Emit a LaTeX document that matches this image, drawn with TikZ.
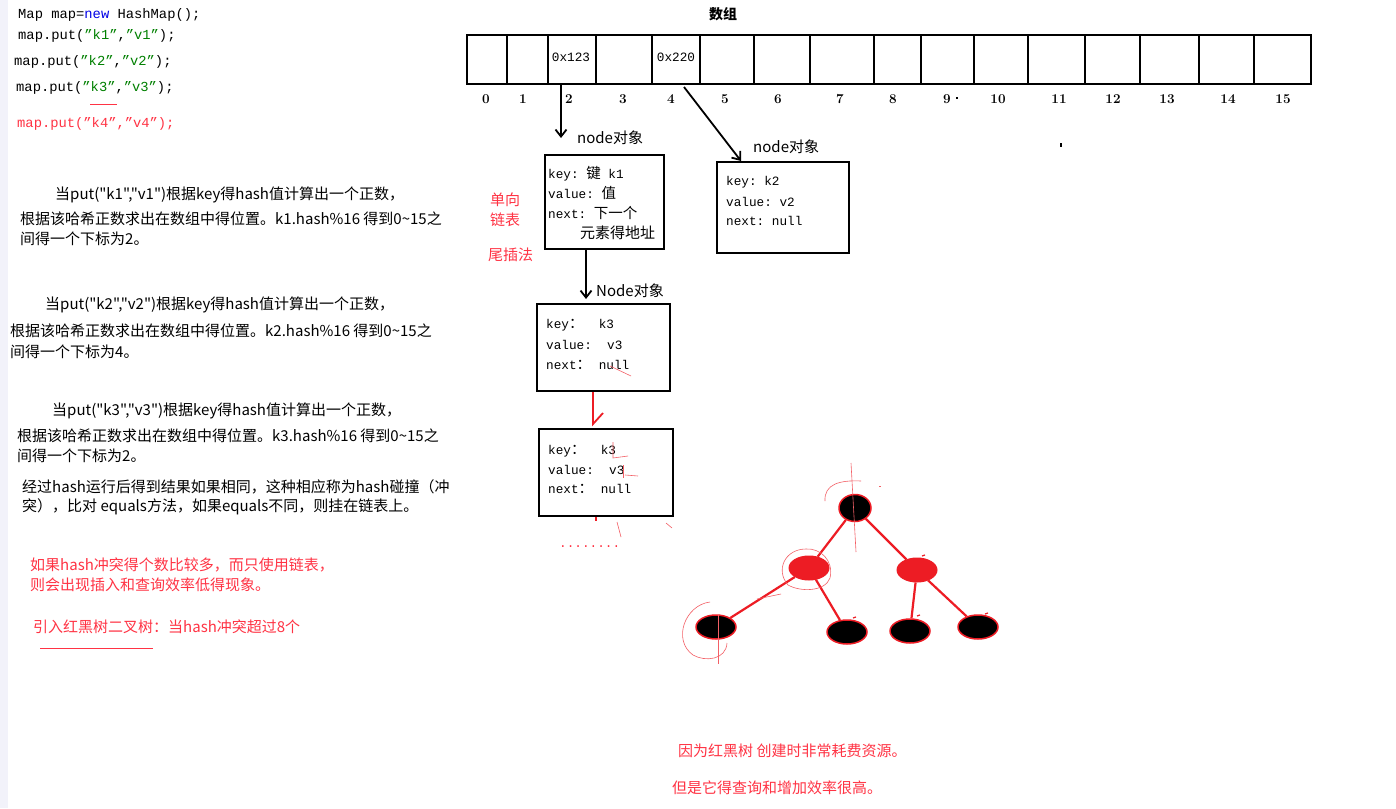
\documentclass[tikz,border=0pt]{standalone}
\usepackage{fontspec}
\setmonofont{Liberation Mono}
\newfontfamily\cjk{Noto Sans CJK SC}
\usetikzlibrary{shapes.geometric,arrows.meta,calc}
\definecolor{codegreen}{RGB}{0,128,0}
\definecolor{codeblue}{RGB}{0,0,230}
\definecolor{redtxt}{RGB}{255,51,68}
\definecolor{treered}{RGB}{237,28,36}
\definecolor{edgegray}{RGB}{242,242,250}
\tikzset{
 txt/.style={anchor=west, inner sep=0pt, font=\cjk\fontsize{15}{17}\selectfont},
 rtxt/.style={txt, text=redtxt},
 code/.style={anchor=west, inner sep=0pt, font=\ttfamily\fontsize{13.8}{16}\selectfont},
 btxt/.style={anchor=west, inner sep=0pt, font=\ttfamily\fontsize{12.7}{15}\selectfont},
 box/.style={draw, line width=2.2pt, anchor=north west, inner sep=0pt},
 cell/.style={draw, line width=2.4pt, anchor=north west, inner sep=0pt, minimum height=49pt},
 idx/.style={font=\bfseries\fontsize{13.5}{15}\selectfont, inner sep=0pt},
 arr/.style={-{Straight Barb[length=7pt,width=11pt]}, line width=1.8pt},
 tedge/.style={treered, line width=2.2pt},
 blk/.style={ellipse, fill=black, draw=treered, line width=1.5pt, inner sep=0pt},
 rdn/.style={ellipse, fill=treered, draw=treered, line width=1pt, inner sep=0pt},
 scrib/.style={treered!70, line width=0.6pt},
}
\newcommand{\cg}[1]{{\color{codegreen}#1}}
\newcommand{\cj}[1]{{\cjk\fontsize{14.5}{17}\selectfont #1}}
\begin{document}
\begin{tikzpicture}[x=1pt,y=-1pt]
\useasboundingbox (0,0) rectangle (1396,808);
\fill[white] (0,0) rectangle (1396,808);
\fill[edgegray] (0,0) rectangle (8,808);

% ---- code ----
\node[code] (c1) at (18,15) {Map map={\color{codeblue}new} HashMap();};
\node[code] (c2) at (18,36) {map.put(\cg{”k1”},\cg{”v1”});};
\node[code] (c3) at (14,62) {map.put(\cg{”k2”},\cg{”v2”});};
\node[code] (c4) at (16,88) {map.put(\cg{”k3”},\cg{”v3”});};
\node[code, text=redtxt] (c5) at (17,124) {map.put(”k4”,”v4”);};
\draw[redtxt, line width=1pt] (90,104) -- (117,104);

% ---- explanations ----
\node[txt] (p11) at (55,195) {当put("k1","v1")根据key得hash值计算出一个正数，};
\node[txt] (p12) at (20,219) {根据该哈希正数求出在数组中得位置。k1.hash\%16 得到0\textasciitilde15之};
\node[txt] (p13) at (20,239) {间得一个下标为2。};
\node[txt] (p21) at (45,305) {当put("k2","v2")根据key得hash值计算出一个正数，};
\node[txt] (p22) at (10,331) {根据该哈希正数求出在数组中得位置。k2.hash\%16 得到0\textasciitilde15之};
\node[txt] (p23) at (10,352) {间得一个下标为4。};
\node[txt] (p31) at (52,411) {当put("k3","v3")根据key得hash值计算出一个正数，};
\node[txt] (p32) at (17,436) {根据该哈希正数求出在数组中得位置。k3.hash\%16 得到0\textasciitilde15之};
\node[txt] (p33) at (17,456) {间得一个下标为2。};
\node[txt] (p41) at (22,487) {经过hash运行后得到结果如果相同，这种相应称为hash碰撞（冲};
\node[txt] (p42) at (22,507) {突），比对 equals方法，如果equals不同，则挂在链表上。};
\node[rtxt] (r1) at (30,565) {如果hash冲突得个数比较多，而只使用链表，};
\node[rtxt] (r2) at (30,585) {则会出现插入和查询效率低得现象。};
\node[rtxt] (r3) at (33,627) {引入红黑树二叉树：当hash冲突超过8个};
\draw[redtxt, line width=1pt] (40,648) -- (153,648);

% ---- array ----
\node[font=\cjk\bfseries\fontsize{14}{16}\selectfont, inner sep=0pt] (title) at (723,14) {数组};
\foreach \i/\l/\r in {0/466/506,1/506/547,2/547/595,3/595/651,4/651/699,5/699/753,6/753/809,7/809/873,8/873/920,9/920/973,10/973/1027,11/1027/1084,12/1084/1139,13/1139/1198,14/1198/1253,15/1253/1310}
  \node[cell, minimum width={\r-\l}] (c\i cell) at (\l,34) {};
\foreach \i/\x in {0/486,1/523,2/569,3/623,4/671,5/725,6/778,7/840,8/893,9/947,10/998,11/1059,12/1113,13/1167,14/1228,15/1283}
  \node[idx] (ix\i) at (\x,99) {\i};
\fill (956,97) rectangle (958,99);
\node[btxt, anchor=center] (v2) at (571,57) {0x123};
\node[btxt, anchor=center] (v4) at (676,57) {0x220};

% ---- node boxes ----
\node[box, minimum width=119pt, minimum height=94pt] (n1) at (544,154) {};
\node[btxt] (n1a) at (548,174) {key: \cj{键} k1};
\node[btxt] (n1b) at (548,193) {value: \cj{值}};
\node[btxt] (n1c) at (548,213) {next: \cj{下一个}};
\node[txt] (n1d) at (580,233) {元素得地址};

\node[box, minimum width=132pt, minimum height=91pt] (n2) at (716,161) {};
\node[btxt] (n2a) at (726,182) {key: k2};
\node[btxt] (n2b) at (726,202) {value: v2};
\node[btxt] (n2c) at (726,221) {next: null};

\node[box, minimum width=133pt, minimum height=87pt] (n3) at (536,303) {};
\node[btxt] (n3a) at (546,325) {key\cj{：}\ \ k3};
\node[btxt] (n3b) at (546,345) {value:\ \ v3};
\node[btxt] (n3c) at (546,365) {next\cj{：}\ null};

\node[box, minimum width=134pt, minimum height=87pt] (n4) at (538,428) {};
\node[btxt] (n4a) at (548,451) {key\cj{：}\ \ k3};
\node[btxt] (n4b) at (548,470) {value:\ \ v3};
\node[btxt] (n4c) at (548,489) {next\cj{：}\ null};

\node[txt] (lb1) at (577,138) {node对象};
\node[txt] (lb2) at (753,147) {node对象};
\node[txt] (lb3) at (596,291) {Node对象};
\node[rtxt] (s1) at (490,200) {单向};
\node[rtxt] (s2) at (490,220) {链表};
\node[rtxt] (s3) at (488,255) {尾插法};
\node[font=\ttfamily\fontsize{12.7}{15}\selectfont, text=redtxt, anchor=west, inner sep=0pt] (dots) at (559,547) {........};

% ---- arrows ----
\coordinate (a1s) at (561,83);
\coordinate (a1e) at (561,138);
\draw[arr] (a1s) -- (a1e);
\coordinate (a2s) at (684,87);
\coordinate (a2e) at (741,161);
\draw[arr] (a2s) -- (a2e);
\coordinate (x586) at (586,0);
\draw[arr] (n1.south -| x586) -- ($(n3.north -| x586)+(0,-4)$);
\coordinate (x593) at (593,0);
\coordinate (rk) at (603,413);
\draw[treered, line width=1.8pt] (n3.south -| x593) -- ($(n4.north -| x593)+(0,-4)$) -- (rk);

% ---- tree ----
\node[blk, minimum width=32pt, minimum height=27pt] (root) at (855,508) {};
\node[rdn, minimum width=40pt, minimum height=24pt] (L) at (809,568) {};
\node[rdn, minimum width=40pt, minimum height=24pt] (R) at (917,570) {};
\node[blk, minimum width=40pt, minimum height=24pt] (LL) at (716,627) {};
\node[blk, minimum width=40pt, minimum height=24pt] (LR) at (847,632) {};
\node[blk, minimum width=40pt, minimum height=24pt] (RL) at (910,631) {};
\node[blk, minimum width=40pt, minimum height=24pt] (RR) at (978,627) {};
\draw[tedge] (root) -- (L);
\draw[tedge] (root) -- (R);
\draw[tedge] (L) -- (LL);
\draw[tedge] (L) -- (LR);
\draw[tedge] (R) -- (RL);
\draw[tedge] (R) -- (RR);

% ---- scribbles ----
\draw[scrib] (851,463) -- (856,552);
\draw[scrib] (825,501) .. controls (824,484) and (840,480) .. (861,481);
\draw[scrib] (806,549) .. controls (785,549) and (775,570) .. (788,585) .. controls (800,592) and (825,592) .. (830,578) .. controls (834,560) and (820,548) .. (806,549);
\draw[scrib] (757,599) -- (781,594);
\draw[scrib] (710,602) .. controls (685,605) and (672,640) .. (693,655) .. controls (705,662) and (726,660) .. (727,643);
\draw[scrib] (718,615) -- (718,664);
\draw[scrib] (610,366) -- (631,376);
\draw[scrib] (613,442) -- (613,458) -- (628,456);
\draw[scrib] (623,465) -- (623,478);
\draw[scrib] (625,475) -- (638,476);
\draw[treered, line width=1.5pt] (596,517) -- (596,521);
\draw[scrib] (617,522) -- (621,537);
\draw[scrib] (666,523) -- (672,528);
\draw[treered, line width=1.2pt] (922,556) -- (925,555);
\draw[treered, line width=1.2pt] (853,618) -- (856,617);
\draw[treered, line width=1.2pt] (917,616) -- (920,615);
\draw[treered, line width=1.2pt] (985,614) -- (988,613);
\draw[scrib] (879,486) -- (881,486);
\fill (1060,143) rectangle (1062,147);

% ---- bottom text ----
\node[rtxt] (b1) at (678,751) {因为红黑树 创建时非常耗费资源。};
\node[rtxt] (b2) at (672,788) {但是它得查询和增加效率很高。};
\end{tikzpicture}
\end{document}
